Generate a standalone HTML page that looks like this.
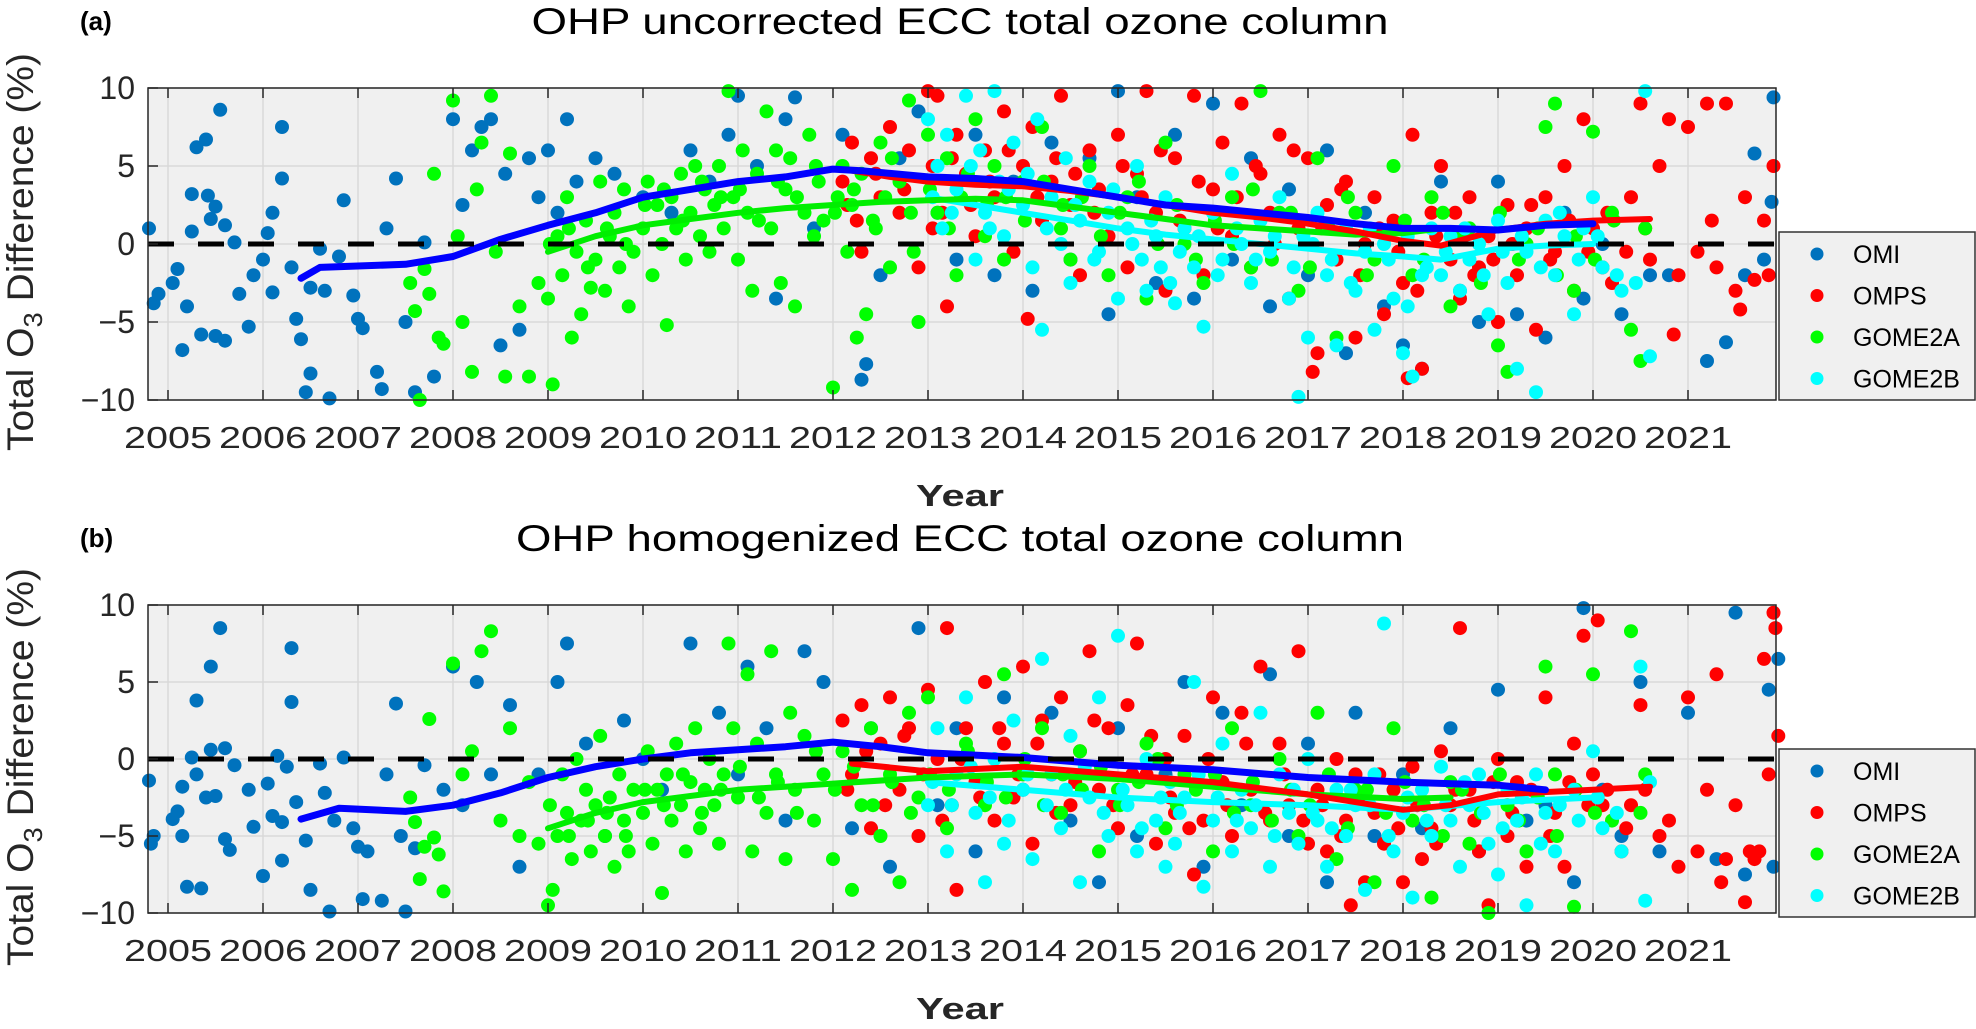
<!DOCTYPE html>
<html><head><meta charset="utf-8"><style>
html,body{margin:0;padding:0;background:#fff}
svg{display:block}
text{font-family:"Liberation Sans",sans-serif;fill:#262626}
</style></head><body>
<svg id="fig" width="1976" height="1029" viewBox="0 0 1976 1029" xmlns="http://www.w3.org/2000/svg"></svg>
<script>
// ---------- DATA ----------
const yearTicks=[2005,2006,2007,2008,2009,2010,2011,2012,2013,2014,2015,2016,2017,2018,2019,2020,2021];
const yTicks=[10,5,0,-5,-10];
const yTickLabels=["10","5","0","\u22125","\u221210"];
const seriesNames=["OMI","OMPS","GOME2A","GOME2B"];

const omiA=[[2004.8,1],[2004.85,-3.8],[2004.9,-3.2],[2005.05,-2.5],[2005.1,-1.6],[2005.15,-6.8],[2005.2,-4],[2005.25,0.8],[2005.25,3.2],[2005.3,6.2],[2005.35,-5.8],[2005.4,6.7],[2005.42,3.1],[2005.45,1.6],[2005.5,2.4],[2005.55,8.6],[2005.5,-5.9],[2005.6,1.2],[2005.6,-6.2],[2005.7,0.1],[2005.75,-3.2],[2005.85,-5.3],[2005.9,-2],[2006.0,-1],[2006.05,0.7],[2006.1,2],[2006.1,-3.1],[2006.2,7.5],[2006.2,4.2],[2006.3,-1.5],[2006.35,-4.8],[2006.4,-6.1],[2006.45,-9.5],[2006.5,-8.3],[2006.5,-2.8],[2006.6,-0.3],[2006.65,-3],[2006.7,-9.9],[2006.8,-0.8],[2006.85,2.8],[2006.95,-3.3],[2007.0,-4.8],[2007.05,-5.4],[2007.2,-8.2],[2007.25,-9.3],[2007.3,1],[2007.4,4.2],[2007.5,-5],[2007.6,-9.5],[2007.7,0.1],[2007.8,-8.5],[2008.0,8],[2008.1,2.5],[2008.2,6],[2008.3,7.5],[2008.4,8],[2008.5,-6.5],[2008.55,4.5],[2008.7,-5.5],[2008.8,5.5],[2008.9,3],[2009.0,6],[2009.1,2],[2009.2,8],[2009.3,4],[2009.5,5.5],[2009.7,4.5],[2010.0,3],[2010.3,2],[2010.5,6],[2010.7,4],[2010.9,7],[2011.0,9.5],[2011.2,5],[2011.4,-3.5],[2011.5,8],[2011.6,9.4],[2011.8,1],[2012.1,7],[2012.3,-8.7],[2012.35,-7.7],[2012.5,-2],[2012.7,5.5],[2012.9,8.5],[2013.1,2],[2013.3,-1],[2013.5,7],[2013.7,-2],[2013.9,4],[2014.1,-3],[2014.3,6.5],[2014.5,-1],[2014.7,5.5],[2014.9,-4.5],[2015.0,9.8],[2015.2,3],[2015.4,-2.5],[2015.6,7],[2015.8,-3.5],[2016.0,9],[2016.2,-1],[2016.4,5.5],[2016.6,-4],[2016.8,3.5],[2017.0,-2],[2017.2,6],[2017.4,-7],[2017.6,2],[2017.8,-4],[2018.0,-6.5],[2018.2,-8],[2018.4,4],[2018.6,-3],[2018.8,-5],[2019.0,4],[2019.2,-4.5],[2019.5,-6],[2019.7,2],[2019.9,-3.5],[2020.1,0],[2020.3,-4.5],[2020.6,-2],[2020.8,-2],[2021.2,-7.5],[2021.4,-6.3],[2021.6,-2],[2021.8,-1],[2021.9,9.4],[2021.88,2.7],[2021.7,5.8]];
const ompsA=[[2012.1,4],[2012.2,6.5],[2012.25,1.5],[2012.3,-0.5],[2012.4,5.5],[2012.5,3],[2012.6,7.5],[2012.7,2],[2012.8,6],[2012.9,-1.5],[2013.0,9.8],[2013.05,5],[2013.1,9.5],[2013.15,2],[2013.2,-4],[2013.3,7],[2013.4,4.5],[2013.5,0.5],[2013.6,6],[2013.7,3],[2013.8,8.5],[2013.9,-0.5],[2014.0,5],[2014.05,-4.8],[2014.1,7.5],[2014.2,1.5],[2014.3,4],[2014.4,9.5],[2014.5,2.5],[2014.6,-2],[2014.7,6],[2014.8,3.5],[2014.9,0.5],[2015.0,7],[2015.1,-1.5],[2015.2,4.5],[2015.3,9.8],[2015.4,2],[2015.5,-3],[2015.6,5.5],[2015.7,1],[2015.8,9.5],[2015.9,-2],[2016.0,3.5],[2016.1,6.5],[2016.2,0.5],[2016.3,9],[2016.4,-1.5],[2016.5,4.5],[2016.6,2],[2016.7,7],[2016.8,-3.5],[2016.9,1],[2017.0,5.5],[2017.05,-8.2],[2017.1,-7],[2017.2,2.5],[2017.3,-1],[2017.4,4],[2017.5,-6],[2017.6,0],[2017.7,3],[2017.8,-4.5],[2017.9,1.5],[2018.0,-2.5],[2018.05,-8.6],[2018.1,7],[2018.2,-8],[2018.3,2],[2018.4,5],[2018.5,-1],[2018.6,-3.5],[2018.7,3],[2018.8,-1.5],[2018.9,0.5],[2019.0,-5],[2019.1,2.5],[2019.2,-2],[2019.3,1],[2019.4,-5.5],[2019.5,3],[2019.6,-0.5],[2019.7,5],[2019.8,-3],[2019.9,8],[2020.0,1],[2020.1,-1.5],[2020.2,-2.5],[2020.4,3],[2020.5,9],[2020.6,-1],[2020.7,5],[2020.8,8],[2020.85,-5.8],[2020.9,-2],[2021.0,7.5],[2021.1,-0.5],[2021.2,9],[2021.25,1.5],[2021.3,-1.5],[2021.4,9],[2021.5,-3],[2021.55,-4.2],[2021.6,3],[2021.7,-2.3],[2021.8,1.5],[2021.85,-2],[2021.9,5]];
const ompsAExtra=[[2012.15,2.5],[2012.45,4.5],[2012.75,3.5],[2013.05,1],[2013.25,5.5],[2013.45,2.5],[2013.65,4],[2013.85,6],[2014.15,3],[2014.35,5.5],[2014.55,4.5],[2014.75,2],[2015.05,5],[2015.25,3],[2015.45,6],[2015.65,1.5],[2015.85,4],[2016.05,1],[2016.25,3],[2016.45,5],[2016.65,0],[2016.85,6],[2017.15,1],[2017.35,3.5],[2017.55,-2],[2017.75,1],[2017.95,-0.5],[2018.15,-3],[2018.35,0.5],[2018.55,2],[2018.75,-2],[2018.95,-1],[2019.15,0],[2019.35,2.5],[2019.55,-1],[2019.75,1.5],[2019.95,-0.5],[2020.15,2],[2020.35,-0.5],[2020.55,1]];
const gome2aA=[[2007.55,-2.5],[2007.6,-4.3],[2007.65,-10],[2007.7,-1.6],[2007.75,-3.2],[2007.8,4.5],[2007.85,-6],[2007.9,-6.4],[2008.0,9.2],[2008.05,0.5],[2008.1,-5],[2008.2,-8.2],[2008.25,3.5],[2008.3,6.5],[2008.4,9.5],[2008.45,-0.5],[2008.55,-8.5],[2008.6,5.8],[2008.7,-4],[2008.8,-8.5],[2008.9,-2.5],[2009.0,-3.5],[2009.05,-9],[2009.1,0.5],[2009.15,-2],[2009.2,3],[2009.25,-6],[2009.3,-0.5],[2009.35,-4.5],[2009.4,1.5],[2009.45,-2.8],[2009.5,-1],[2009.55,4],[2009.6,-3],[2009.65,0.5],[2009.7,2],[2009.75,-1.5],[2009.8,3.5],[2009.85,-4],[2009.9,-0.5],[2010.0,1],[2010.05,4],[2010.1,-2],[2010.15,2.5],[2010.2,0],[2010.25,-5.2],[2010.3,3],[2010.35,1],[2010.4,4.5],[2010.45,-1],[2010.5,2],[2010.55,5],[2010.6,0.5],[2010.65,3.5],[2010.7,-0.5],[2010.75,2.5],[2010.8,5],[2010.85,1],[2010.9,9.8],[2010.95,3],[2011.0,-1],[2011.05,6],[2011.1,2],[2011.15,-3],[2011.2,4.5],[2011.3,8.5],[2011.35,1],[2011.4,6],[2011.45,-2.5],[2011.5,3.5],[2011.55,5.5],[2011.6,-4],[2011.7,2],[2011.75,7],[2011.8,0.5],[2011.85,4],[2011.9,1.5],[2012.0,-9.2],[2012.05,3],[2012.1,5],[2012.15,-0.5],[2012.2,2.5],[2012.25,-6],[2012.3,4.5],[2012.35,-4.5],[2012.45,1],[2012.5,6.5],[2012.55,3],[2012.6,-1.5],[2012.7,4],[2012.8,9.2],[2012.85,-0.5],[2012.9,-5],[2013.0,7],[2013.1,2],[2013.2,5.5],[2013.3,-2],[2013.35,3],[2013.5,8],[2013.6,0.5],[2013.7,5],[2013.8,-1],[2014.0,4],[2014.2,7.5],[2014.4,1],[2014.5,-1],[2014.7,5],[2014.9,-2],[2015.1,3],[2015.3,-3.5],[2015.5,6.5],[2015.7,0],[2015.9,-2.5],[2016.2,3],[2016.4,-1.5],[2016.5,9.8],[2016.7,2],[2016.9,-3],[2017.1,5.5],[2017.3,-6],[2017.5,2],[2017.7,-1],[2017.9,5],[2018.1,-2],[2018.3,3],[2018.5,-4],[2018.7,1],[2019.0,-6.5],[2019.1,-8.2],[2019.3,0],[2019.5,7.5],[2019.6,9],[2019.8,-3],[2020.0,7.2],[2020.2,2],[2020.4,-5.5],[2020.5,-7.5],[2020.55,1]];
const gome2aAExtra=[[2009.02,0],[2009.22,1],[2009.42,-1.5],[2009.62,1],[2009.82,0],[2010.02,2.5],[2010.22,3.5],[2010.42,1.5],[2010.62,4],[2010.82,3],[2011.02,3.5],[2011.22,1.5],[2011.42,4],[2011.62,3],[2011.82,5],[2012.02,2],[2012.22,3.5],[2012.42,1.5],[2012.62,5.5],[2012.82,2],[2013.02,3.5],[2013.22,1],[2013.42,4.5],[2013.62,2.5],[2013.82,3],[2014.02,1.5],[2014.22,4],[2014.42,2.5],[2014.62,3],[2014.82,0.5],[2015.02,2],[2015.22,4],[2015.42,0],[2015.62,2.5],[2015.82,-1],[2016.02,1.5],[2016.22,0],[2016.42,3.5],[2016.62,-1],[2016.82,2],[2017.02,-1.5],[2017.22,1],[2017.42,3],[2017.62,-2],[2017.82,0.5],[2018.02,1.5],[2018.22,-1],[2018.42,2],[2018.62,0.5],[2018.82,-2.5],[2019.02,2],[2019.22,-1],[2019.42,1],[2019.62,-2],[2019.82,0.5],[2020.02,-1],[2020.22,1.5]];
const gome2bA=[[2013.0,8],[2013.1,5],[2013.15,1],[2013.2,7],[2013.3,3.5],[2013.4,9.5],[2013.5,-1],[2013.55,6],[2013.6,2],[2013.7,9.8],[2013.75,4],[2013.8,0.5],[2013.9,6.5],[2014.0,2.5],[2014.1,-1.5],[2014.15,8],[2014.2,-5.5],[2014.3,3],[2014.4,0],[2014.45,5.5],[2014.5,-2.5],[2014.6,1.5],[2014.7,4],[2014.8,-0.5],[2014.9,2],[2015.0,-3.5],[2015.1,1],[2015.2,5],[2015.25,-1],[2015.3,-3],[2015.4,0.5],[2015.5,3],[2015.55,-2.5],[2015.6,-3.8],[2015.7,1],[2015.8,-1.5],[2015.9,-5.3],[2016.0,2],[2016.1,-1],[2016.2,4.5],[2016.3,0],[2016.4,-2.5],[2016.5,1.5],[2016.6,-0.5],[2016.7,3],[2016.8,-3.5],[2016.9,-9.8],[2016.95,0.5],[2017.0,-6],[2017.1,2],[2017.2,-2],[2017.3,-6.5],[2017.4,1],[2017.5,-3],[2017.6,-0.5],[2017.7,-5.5],[2017.8,0],[2017.9,-3.5],[2018.0,-7],[2018.05,-4],[2018.1,-8.5],[2018.2,-2],[2018.3,1],[2018.4,-2],[2018.5,0.5],[2018.6,-3],[2018.7,-1],[2018.8,0],[2018.9,-4.5],[2019.0,1.5],[2019.1,-2.5],[2019.2,-8],[2019.3,-0.5],[2019.4,-9.5],[2019.5,1.5],[2019.6,-2],[2019.7,0.5],[2019.8,-4.5],[2019.9,1],[2020.0,3],[2020.1,-1.5],[2020.3,-3],[2020.45,-2.5],[2020.55,9.8],[2020.6,-7.2]];
const gome2bAExtra=[[2013.05,3],[2013.25,2],[2013.45,5],[2013.65,1],[2013.85,3.5],[2014.05,4.5],[2014.25,1],[2014.55,2.5],[2014.75,-1],[2014.95,3.5],[2015.15,0],[2015.35,1.5],[2015.45,-1.5],[2015.65,-0.5],[2015.85,0.5],[2016.05,-2],[2016.25,1],[2016.45,-1],[2016.65,0.5],[2016.85,-1.5],[2017.05,0],[2017.25,-1],[2017.45,-2.5],[2017.65,1],[2017.85,-1],[2018.05,0.5],[2018.25,-1.5],[2018.45,-0.5],[2018.65,1],[2018.85,-2],[2019.05,-0.5],[2019.25,0.5],[2019.45,-1.5],[2019.65,2],[2019.85,-1],[2020.05,0.5],[2020.25,-2]];

const omiB=[[2004.8,-1.4],[2004.82,-5.5],[2004.85,-5],[2005.05,-3.9],[2005.1,-3.4],[2005.15,-5],[2005.15,-1.8],[2005.2,-8.3],[2005.25,0.1],[2005.3,-1],[2005.3,3.8],[2005.35,-8.4],[2005.4,-2.5],[2005.45,6],[2005.45,0.6],[2005.55,8.5],[2005.5,-2.4],[2005.6,0.7],[2005.6,-5.2],[2005.65,-5.9],[2005.7,-0.4],[2005.85,-2],[2005.9,-4.4],[2006.0,-7.6],[2006.05,-1.6],[2006.1,-3.7],[2006.15,0.2],[2006.2,-6.6],[2006.2,-4.1],[2006.25,-0.5],[2006.3,7.2],[2006.3,3.7],[2006.35,-2.8],[2006.45,-5.3],[2006.5,-8.5],[2006.6,-0.3],[2006.65,-2.2],[2006.7,-9.9],[2006.75,-4],[2006.85,0.1],[2006.95,-4.5],[2007.0,-5.7],[2007.05,-9.1],[2007.1,-6],[2007.25,-9.2],[2007.3,-1],[2007.4,3.6],[2007.45,-5],[2007.5,-9.9],[2007.6,-5.8],[2007.7,-0.4],[2007.9,-2],[2008.0,6],[2008.1,-3],[2008.25,5],[2008.4,-1],[2008.6,3.5],[2008.7,-7],[2008.9,-1],[2009.1,5],[2009.2,7.5],[2009.4,1],[2009.6,-5],[2009.8,2.5],[2010.0,0],[2010.2,-2],[2010.5,7.5],[2010.8,3],[2011.0,-1],[2011.1,6],[2011.3,2],[2011.5,-4],[2011.7,7],[2011.9,5],[2012.2,-4.5],[2012.4,2],[2012.6,-7],[2012.9,8.5],[2013.1,-3],[2013.3,2],[2013.5,-6],[2013.8,4],[2014.0,-2],[2014.3,3],[2014.5,-4],[2014.8,-8],[2015.0,2],[2015.2,-5],[2015.5,-1],[2015.7,5],[2015.9,-7],[2016.1,3],[2016.3,-3],[2016.6,5.5],[2016.8,-5],[2017.0,1],[2017.2,-8],[2017.5,3],[2017.7,-5],[2018.0,-1],[2018.2,-4.5],[2018.5,2],[2018.8,-6],[2019.0,4.5],[2019.3,-4],[2019.5,-3],[2019.8,-8],[2019.9,9.8],[2020.1,-2],[2020.3,-5],[2020.5,5],[2020.7,-6],[2021.0,3],[2021.3,-6.5],[2021.5,9.5],[2021.6,-7.5],[2021.9,-7],[2021.95,6.5],[2021.85,4.5]];
const ompsB=[[2012.1,2.5],[2012.2,-1],[2012.3,3.5],[2012.4,-4.5],[2012.5,1],[2012.6,4],[2012.7,-2],[2012.8,2],[2012.9,-5],[2013.0,4.5],[2013.1,0],[2013.2,8.5],[2013.25,-3],[2013.3,-8.5],[2013.4,2],[2013.5,-1.5],[2013.6,5],[2013.7,-4],[2013.8,1],[2013.9,-2.5],[2014.0,6],[2014.1,-5.5],[2014.2,2.5],[2014.3,-1],[2014.4,4],[2014.5,-3],[2014.6,0.5],[2014.7,7],[2014.8,-2],[2014.9,2],[2015.0,-4.5],[2015.1,3.5],[2015.2,7.5],[2015.3,-1],[2015.4,-5.5],[2015.5,0],[2015.6,-3.5],[2015.7,1.5],[2015.8,-7.5],[2015.9,-4],[2016.0,4],[2016.1,-1.5],[2016.2,-5],[2016.3,3],[2016.4,-2],[2016.5,6],[2016.6,-4],[2016.7,1],[2016.8,-3],[2016.9,7],[2017.0,-5.5],[2017.1,-2],[2017.2,-6],[2017.3,0],[2017.4,-4],[2017.45,-9.5],[2017.5,-1],[2017.6,-8],[2017.7,-3.5],[2017.8,-5.5],[2017.9,-2],[2018.0,-8],[2018.1,-0.5],[2018.2,-6.5],[2018.3,-4.5],[2018.4,0.5],[2018.5,-3],[2018.6,8.5],[2018.7,-2],[2018.8,-6],[2018.9,-9.5],[2019.0,0],[2019.1,-5],[2019.2,-1.5],[2019.3,-7],[2019.5,4],[2019.6,-3.5],[2019.7,-7],[2019.8,1],[2019.9,8],[2020.0,-1],[2020.05,9],[2020.1,-3],[2020.3,-6],[2020.4,-3],[2020.5,3.5],[2020.7,-5],[2020.8,-4],[2020.9,-7],[2021.0,4],[2021.1,-6],[2021.2,-2],[2021.3,5.5],[2021.35,-8],[2021.4,-6.5],[2021.5,-3],[2021.6,-9.3],[2021.65,-6],[2021.7,-6.5],[2021.8,6.5],[2021.85,-1],[2021.9,9.5],[2021.92,8.5],[2021.95,1.5],[2021.75,-6]];
const ompsBExtra=[[2012.15,-2],[2012.35,0.5],[2012.55,-3],[2012.75,1.5],[2012.95,-1],[2013.15,-4],[2013.35,0],[2013.55,-2.5],[2013.75,2],[2013.95,-1],[2014.15,1],[2014.35,-3.5],[2014.55,-1.5],[2014.75,2.5],[2014.95,-3],[2015.15,-1],[2015.35,1.5],[2015.55,-2.5],[2015.75,-4.5],[2015.95,0],[2016.15,-3],[2016.35,1],[2016.55,-3.5],[2016.75,-1],[2016.95,-4],[2017.15,-3],[2017.35,-5],[2017.55,-2.5],[2017.75,-1],[2017.95,-4.5],[2018.15,-3],[2018.35,-5.5],[2018.55,-2],[2018.75,-4],[2018.95,-1.5],[2019.15,-3.5],[2019.35,-2],[2019.55,-5],[2019.75,-1.5],[2019.95,-3],[2020.15,-2],[2020.35,-4.5],[2020.55,-2]];
const gome2aB=[[2007.55,-2.5],[2007.6,-4.1],[2007.65,-7.8],[2007.7,-5.7],[2007.75,2.6],[2007.8,-5.1],[2007.85,-6.2],[2007.9,-8.6],[2008.0,6.2],[2008.1,-1],[2008.2,0.5],[2008.3,7],[2008.4,8.3],[2008.5,-4],[2008.6,2],[2008.7,-5],[2008.8,-1.5],[2008.9,-5.5],[2009.0,-9.5],[2009.05,-8.5],[2009.1,-5],[2009.15,-1],[2009.2,-3.5],[2009.25,-6.5],[2009.3,0],[2009.35,-4],[2009.4,-2],[2009.45,-6],[2009.5,-3],[2009.55,1.5],[2009.6,-5],[2009.65,-2.5],[2009.7,-7],[2009.75,-1],[2009.8,-4],[2009.85,-6],[2009.9,-2],[2010.0,-3.5],[2010.05,0.5],[2010.1,-5.5],[2010.15,-2],[2010.2,-8.7],[2010.25,-1],[2010.3,-4],[2010.35,1],[2010.4,-3],[2010.45,-6],[2010.5,-1.5],[2010.55,2],[2010.6,-4.5],[2010.65,-2],[2010.7,0],[2010.75,-3],[2010.8,-5.5],[2010.85,-1],[2010.9,7.5],[2010.95,2],[2011.0,-2.5],[2011.1,5.5],[2011.15,-6],[2011.2,1],[2011.3,-3.5],[2011.35,7],[2011.4,-1],[2011.5,-6.5],[2011.55,3],[2011.6,-2],[2011.7,1.5],[2011.8,-4],[2011.9,-1],[2012.0,-6.5],[2012.1,0.5],[2012.2,-8.5],[2012.3,-3],[2012.4,2],[2012.5,-5],[2012.6,-1],[2012.7,-8],[2012.8,3],[2012.9,-2.5],[2013.0,4],[2013.2,-4.5],[2013.4,1],[2013.6,-3],[2013.8,5.5],[2014.0,-1],[2014.2,2],[2014.4,-3.5],[2014.6,0.5],[2014.8,-6],[2015.0,-2],[2015.3,1],[2015.5,-4.5],[2015.7,-1],[2016.0,-6],[2016.2,2],[2016.4,-3],[2016.7,0],[2016.9,-5],[2017.1,3],[2017.3,-6.5],[2017.5,-2],[2017.7,-8],[2017.9,2],[2018.1,-4],[2018.3,-9],[2018.5,-1.5],[2018.7,-5.5],[2018.9,-10],[2019.1,-3],[2019.3,-6],[2019.5,6],[2019.6,-1],[2019.8,-9.6],[2020.0,5.5],[2020.2,-4],[2020.4,8.3],[2020.5,-3.5],[2020.55,-1]];
const gome2aBExtra=[[2009.02,-3],[2009.22,-5],[2009.42,-4],[2009.62,-3.5],[2009.82,-5],[2010.02,-2],[2010.22,-3],[2010.42,-1],[2010.62,-3.5],[2010.82,-2],[2011.02,-0.5],[2011.22,-2.5],[2011.42,-1.5],[2011.62,-3.5],[2011.82,0.5],[2012.02,-2],[2012.22,-0.5],[2012.42,-3],[2012.62,-1.5],[2012.82,-3.5],[2013.02,-1],[2013.22,-2],[2013.42,0.5],[2013.62,-1.5],[2013.82,-2.5],[2014.02,0],[2014.22,-3],[2014.42,-1],[2014.62,-2],[2014.82,-0.5],[2015.02,-3],[2015.22,-1.5],[2015.42,0],[2015.62,-3],[2015.82,-2],[2016.02,-1],[2016.22,-3.5],[2016.42,-1.5],[2016.62,-4],[2016.82,-2],[2017.02,-3],[2017.22,-1],[2017.42,-4.5],[2017.62,-2],[2017.82,-3.5],[2018.02,-1.5],[2018.22,-3],[2018.42,-5],[2018.62,-2],[2018.82,-3.5],[2019.02,-1],[2019.22,-4],[2019.42,-2.5],[2019.62,-5],[2019.82,-2],[2020.02,-3.5]];
const gome2bB=[[2013.0,-3],[2013.1,2],[2013.2,-6],[2013.3,-1],[2013.4,4],[2013.5,-3.5],[2013.6,-8],[2013.7,0],[2013.8,-5.5],[2013.9,2.5],[2014.0,-2],[2014.1,-6.5],[2014.2,6.5],[2014.3,-1],[2014.4,-4.5],[2014.5,1.5],[2014.6,-8],[2014.7,-2.5],[2014.8,4],[2014.9,-5],[2015.0,8],[2015.1,-3],[2015.2,-6],[2015.3,0],[2015.4,-4],[2015.5,-7],[2015.55,-1.5],[2015.6,-5.5],[2015.7,-2.5],[2015.8,5],[2015.9,-8.3],[2016.0,-4],[2016.1,1],[2016.2,-6],[2016.3,-2],[2016.4,-4.5],[2016.5,3],[2016.6,-7],[2016.7,-1],[2016.8,-3.5],[2016.9,-5.5],[2017.0,0],[2017.1,-4],[2017.2,-7],[2017.3,-2],[2017.4,-5],[2017.5,-3],[2017.6,-8.5],[2017.7,-1],[2017.8,8.8],[2017.9,-6],[2018.0,-3.5],[2018.1,-9],[2018.2,-2],[2018.3,-5],[2018.4,-0.5],[2018.5,-4],[2018.6,-7],[2018.7,-3],[2018.8,-1],[2018.9,-5.5],[2019.0,-7.5],[2019.1,-2],[2019.2,-4],[2019.3,-9.5],[2019.4,-1],[2019.5,-3.5],[2019.6,-6],[2019.8,-2],[2020.0,0.5],[2020.1,-4.5],[2020.3,-6],[2020.5,6],[2020.55,-9.2],[2020.6,-1.5]];
const gome2bBExtra=[[2013.05,-1.5],[2013.25,-3],[2013.45,-0.5],[2013.65,-2.5],[2013.85,-4],[2014.05,-1],[2014.25,-3],[2014.45,-2],[2014.65,-0.5],[2014.85,-3.5],[2015.05,-2],[2015.25,-4.5],[2015.45,-2.5],[2015.65,-3.5],[2015.85,-1],[2016.05,-2.5],[2016.25,-4],[2016.45,-3],[2016.65,-5],[2016.85,-2],[2017.05,-3.5],[2017.25,-4.5],[2017.45,-2],[2017.65,-3],[2017.85,-5],[2018.05,-2.5],[2018.25,-4],[2018.45,-3],[2018.65,-1.5],[2018.85,-3.5],[2019.05,-4.5],[2019.25,-2.5],[2019.45,-5.5],[2019.65,-3],[2019.85,-4],[2020.05,-2.5],[2020.25,-3.5]];

// running-mean lines
const omiLineA=[[2006.4,-2.2],[2006.6,-1.5],[2007.5,-1.3],[2008,-0.8],[2008.5,0.3],[2009,1.2],[2009.5,2.0],[2010,3.0],[2010.5,3.5],[2011,4.0],[2011.5,4.3],[2012,4.8],[2012.3,4.7],[2013,4.3],[2013.5,4.2],[2014,4.0],[2014.5,3.5],[2015,3.0],[2015.5,2.5],[2016,2.3],[2016.5,2.0],[2017,1.7],[2017.5,1.3],[2018,1.0],[2018.5,1.0],[2019,0.9],[2019.5,1.2],[2020,1.3]];
const gome2aLineA=[[2009,-0.5],[2009.5,0.5],[2010,1.2],[2010.5,1.6],[2011,2.0],[2011.5,2.3],[2012,2.5],[2012.5,2.7],[2013,2.8],[2013.5,2.9],[2014,2.8],[2014.5,2.4],[2015,2.0],[2015.5,1.6],[2016,1.2],[2016.5,1.0],[2017,0.8],[2017.5,0.6],[2018,0.7],[2018.4,1.0]];
const ompsLineA=[[2012.2,4.7],[2012.6,4.3],[2013,4.0],[2013.5,3.8],[2014,3.7],[2014.5,3.4],[2015,3.0],[2015.5,2.5],[2016,2.0],[2016.5,1.7],[2017,1.3],[2017.5,0.8],[2018,0.2],[2018.4,-0.1],[2018.7,0.4],[2019,0.9],[2019.5,1.3],[2020,1.5],[2020.6,1.6]];
const gome2bLineA=[[2013,3.0],[2013.5,2.5],[2014,2.0],[2014.5,1.5],[2015,1.0],[2015.5,0.6],[2016,0.3],[2016.5,0.0],[2017,-0.3],[2017.5,-0.6],[2018,-0.8],[2018.4,-1.0],[2019,-0.3],[2019.5,-0.1],[2020,0.0]];
const omiLineB=[[2006.4,-3.9],[2006.8,-3.2],[2007.5,-3.4],[2008,-3.0],[2008.5,-2.2],[2009,-1.2],[2009.5,-0.5],[2010,0.0],[2010.5,0.4],[2011,0.6],[2011.5,0.8],[2012,1.1],[2012.5,0.8],[2013,0.4],[2014,0.1],[2015,-0.4],[2016,-0.7],[2017,-1.2],[2018,-1.5],[2019,-1.7],[2019.5,-2.0]];
const gome2aLineB=[[2009,-4.5],[2009.5,-3.5],[2010,-2.8],[2011,-2.0],[2012,-1.6],[2013,-1.2],[2014,-1.0],[2015,-1.3],[2016,-1.8],[2017,-2.3],[2018,-2.6],[2018.5,-2.5]];
const ompsLineB=[[2012.2,-0.3],[2013,-0.8],[2014,-0.5],[2015,-1.0],[2016,-1.5],[2017,-2.3],[2018,-3.3],[2018.5,-3.0],[2019,-2.3],[2020,-2.0],[2020.6,-1.8]];
const gome2bLineB=[[2013,-1.5],[2014,-2.0],[2015,-2.5],[2016,-2.8],[2017,-3.0],[2018,-3.3],[2019,-2.8],[2020,-2.5]];

// ---------- DRAW ----------
const NS="http://www.w3.org/2000/svg";
const svg=document.getElementById('fig');
const colors={OMI:"#0072BD",OMPS:"#FF0000",GOME2A:"#00FF00",GOME2B:"#00FFFF"};
const lineColors={OMI:"#0000FF",OMPS:"#FF0000",GOME2A:"#00EE00",GOME2B:"#00FFFF"};
const X0=148,X1=1776;
function xScale(t){return 168+(t-2005)*95;}
function mk(tag,attrs,parent){const e=document.createElementNS(NS,tag);for(const k in attrs)e.setAttribute(k,attrs[k]);(parent||svg).appendChild(e);return e;}

function panel(id,top,bottom,title,letter,sets,lines){
  const g=mk('g',{});
  
  
  const yS=v=>top+(10-v)/20*(bottom-top);
  const bg=mk('rect',{x:X0,y:top,width:X1-X0,height:bottom-top,fill:"#F0F0F0"},g);
  
  
  yearTicks.forEach(y=>{const l=mk('line',{x1:xScale(y),x2:xScale(y),y1:top,y2:bottom,stroke:"#D9D9D9","stroke-width":1.5},g);
    
    });
  yTicks.forEach(v=>{const l=mk('line',{x1:X0,x2:X1,y1:yS(v),y2:yS(v),stroke:"#D9D9D9","stroke-width":1.5},g);
    
    });
  sets.forEach(([name,data])=>{
    const sg=mk('g',{fill:colors[name]},g);
    
    
    data.forEach(([t,v])=>{const c=mk('circle',{cx:xScale(t).toFixed(1),cy:yS(v).toFixed(1),r:7},sg);
      
      });
  });
  lines.forEach(([name,data])=>{
    const p=mk('polyline',{points:data.map(([t,v])=>xScale(t).toFixed(1)+','+yS(v).toFixed(1)).join(' '),fill:"none",stroke:lineColors[name],"stroke-width":name==="OMI"?7:6,"stroke-linejoin":"round","stroke-linecap":"round"},g);
    
    
  });
  const z=mk('line',{x1:X0,x2:X1,y1:yS(0),y2:yS(0),stroke:"#000","stroke-width":5,"stroke-dasharray":"26 24"},g);
  
  
  const fr=mk('rect',{x:X0,y:top,width:X1-X0,height:bottom-top,fill:"none",stroke:"#262626","stroke-width":1.5},g);
  
  
  yearTicks.forEach(y=>{
    const x=xScale(y);
    mk('line',{x1:x,x2:x,y1:bottom,y2:bottom-10,stroke:"#262626","stroke-width":1.5},g);
    mk('line',{x1:x,x2:x,y1:top,y2:top+10,stroke:"#262626","stroke-width":1.5},g);
    const t=mk('text',{x:x,y:bottom+48,"text-anchor":"middle","font-size":31,textLength:88,lengthAdjust:"spacingAndGlyphs"},g);
    t.textContent=y;
    
    
  });
  yTicks.forEach((v,i)=>{
    mk('line',{x1:X0,x2:X0+10,y1:yS(v),y2:yS(v),stroke:"#262626","stroke-width":1.5},g);
    const t=mk('text',{x:135,y:yS(v)+11,"text-anchor":"end","font-size":32},g);
    t.textContent=yTickLabels[i];
    
    
  });
  const xl=mk('text',{x:960,y:bottom+106,"text-anchor":"middle","font-size":31,"font-weight":"bold",textLength:88,lengthAdjust:"spacingAndGlyphs"},g);
  xl.textContent="Year";
  
  
  const cy=(top+bottom)/2+8;
  const yl=mk('text',{x:0,y:0,transform:`translate(33,${cy}) rotate(-90)`,"text-anchor":"middle","font-size":37,textLength:398,lengthAdjust:"spacingAndGlyphs"},g);
  yl.innerHTML='Total O<tspan font-size="26" dy="9">3</tspan><tspan dy="-9"> Difference (%)</tspan>';
  
  
  const ti=mk('text',{x:960,y:top-54,"text-anchor":"middle","font-size":37,textLength:title[1],lengthAdjust:"spacingAndGlyphs"},g);
  ti.textContent=title[0];
  ti.setAttribute('style','fill:#000');
  
  
  const lt=mk('text',{x:80,y:top-58,"font-size":26,"font-weight":"bold"},g);
  lt.textContent=letter;
  lt.setAttribute('style','fill:#000');
  
  
  const lg=mk('g',{},g);
  
  
  const ly=top+144;
  mk('rect',{x:1779,y:ly,width:196,height:168,fill:"#F0F0F0",stroke:"#333","stroke-width":1.5},lg);
  seriesNames.forEach((n,i)=>{
    const e=mk('g',{},lg);
    
    
    mk('circle',{cx:1817,cy:ly+22+i*41.5,r:6.5,fill:colors[n]},e);
    const t=mk('text',{x:1853,y:ly+22+i*41.5+9,"font-size":25},e);
    t.textContent=n;
    t.setAttribute('style','fill:#000');
  });
}

panel('panel-a',88,400,["OHP uncorrected ECC total ozone column",857],"(a)",
  [["OMI",omiA],["OMPS",ompsA.concat(ompsAExtra)],["GOME2A",gome2aA.concat(gome2aAExtra)],["GOME2B",gome2bA.concat(gome2bAExtra)]],
  [["GOME2B",gome2bLineA],["GOME2A",gome2aLineA],["OMPS",ompsLineA],["OMI",omiLineA]]);
panel('panel-b',605,913,["OHP homogenized ECC total ozone column",888],"(b)",
  [["OMI",omiB],["OMPS",ompsB.concat(ompsBExtra)],["GOME2A",gome2aB.concat(gome2aBExtra)],["GOME2B",gome2bB.concat(gome2bBExtra)]],
  [["GOME2B",gome2bLineB],["GOME2A",gome2aLineB],["OMPS",ompsLineB],["OMI",omiLineB]]);
</script>
</body></html>
